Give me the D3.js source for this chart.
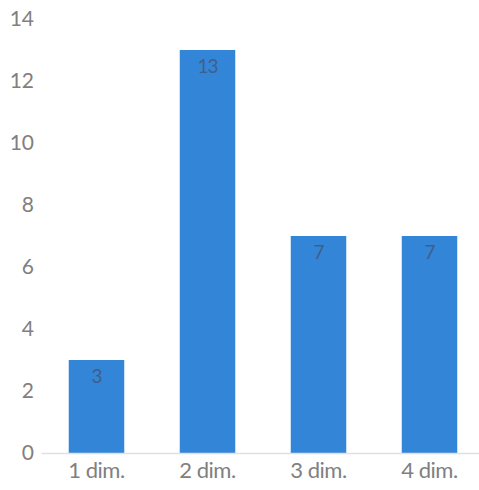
<!DOCTYPE html>
<html>
<head>
<meta charset="utf-8">
<script src="https://cdn.jsdelivr.net/npm/d3@7"></script>
<style>
  body { margin: 0; background: #fff; }
  svg text { font-family: Lato, "Open Sans", sans-serif; }
</style>
</head>
<body>
<svg id="chart" width="479" height="490"></svg>
<script>
const categories = ["1 dim.", "2 dim.", "3 dim.", "4 dim."];
const values = [3, 13, 7, 7];
const yTicks = [0, 2, 4, 6, 8, 10, 12, 14];

const svg = d3.select("#chart");
const margin = { left: 41, right: -6, top: 19, bottom: 37 };
const width = 479, height = 490;

const x = d3.scaleBand()
  .domain(categories)
  .range([margin.left, width - margin.right])
  .paddingInner(0.5)
  .paddingOuter(0.25);

const y = d3.scaleLinear()
  .domain([0, 14])
  .range([height - margin.bottom, margin.top]);

// y-axis tick labels (no axis line)
const yAxis = svg.append("g")
  .attr("transform", `translate(${margin.left},0)`)
  .call(d3.axisLeft(y).tickValues(yTicks).tickSize(0).tickPadding(7));
yAxis.select(".domain").remove();
yAxis.selectAll("text")
  .attr("fill", "#808080")
  .style("font-size", "21px");

// bars
svg.append("g").selectAll("rect")
  .data(values)
  .join("rect")
  .attr("x", (d, i) => x(categories[i]))
  .attr("width", x.bandwidth())
  .attr("y", d => y(d))
  .attr("height", d => y(0) - y(d))
  .attr("fill", "#3385d8");

// value labels inside bars
svg.append("g").selectAll("text")
  .data(values)
  .join("text")
  .attr("x", (d, i) => x(categories[i]) + x.bandwidth() / 2)
  .attr("y", d => y(d) + 16)
  .attr("dy", "0.35em")
  .attr("text-anchor", "middle")
  .attr("fill", "#3f5f88")
  .style("font-size", "19px")
  .style("letter-spacing", "-1px")
  .text(d => d);

// x axis baseline and labels
const xAxis = svg.append("g")
  .attr("transform", `translate(0,${y(0)})`)
  .call(d3.axisBottom(x).tickSize(0).tickPadding(9));
xAxis.select(".domain").attr("stroke", "#e0e0e0").attr("stroke-width", 1.5);
xAxis.selectAll("text")
  .attr("fill", "#808080")
  .style("font-size", "22px")
  .style("letter-spacing", "-0.5px");
</script>
</body>
</html>
